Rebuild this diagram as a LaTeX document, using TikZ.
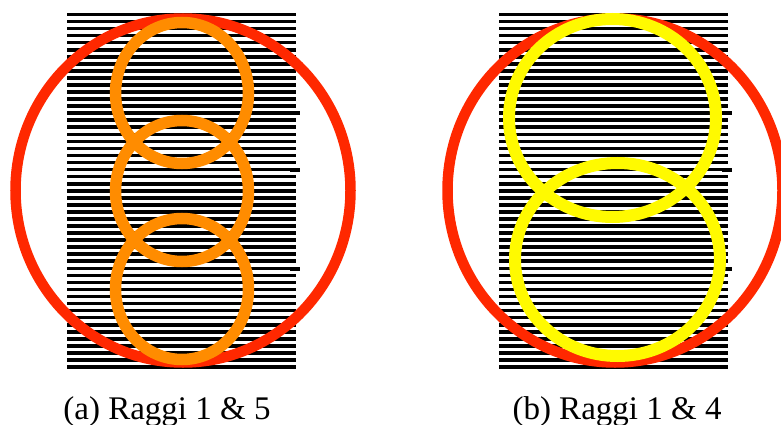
\documentclass[tikz,border=0pt]{standalone}
\usepackage{fontspec}
\setmainfont{Liberation Serif}
\definecolor{redc}{RGB}{255,40,0}
\definecolor{orangec}{RGB}{255,140,0}
\definecolor{yellowc}{RGB}{255,250,0}
\begin{document}
\begin{tikzpicture}[x=1pt,y=-1pt,
  hline/.style={line width=3.6pt,black},
  bigring/.style={draw=redc,line width=10.5pt},
  orring/.style={draw=orangec,line width=11.5pt},
  yering/.style={draw=yellowc,line width=12pt},
  caption/.style={anchor=base,font=\fontsize{33}{35}\selectfont,inner sep=0pt}]
\useasboundingbox (0,0) rectangle (781,425);
% line patterns
\foreach \i in {0,...,50}{
  \pgfmathsetmacro{\yy}{14.5+\i*7.05}
  \draw[hline] (67,\yy) -- (296,\yy);
  \draw[hline] (499,\yy) -- (728,\yy);
}
\foreach \yy in {63,113,170,269,318}{
  \draw[hline] (290,\yy) -- (300,\yy);
  \draw[hline] (722,\yy) -- (732,\yy);
}
% panel (a)
\draw[bigring] (183,190.5) ellipse [x radius=167.5, y radius=172];
\draw[orring] (182,93) ellipse [x radius=66.5, y radius=70.5];
\draw[orring] (182,191) ellipse [x radius=66.5, y radius=70.5];
\draw[orring] (182,289) ellipse [x radius=66.5, y radius=70.5];
% panel (b)
\draw[bigring] (615,190.5) ellipse [x radius=167.5, y radius=172];
\draw[yering] (612.5,118) ellipse [x radius=103.5, y radius=99];
\draw[yering] (617.5,259.5) ellipse [x radius=102.5, y radius=96.5];
% captions
\node[caption] (capa) at (167,419) {(a) Raggi 1 \& 5};
\node[caption] (capb) at (617,419) {(b) Raggi 1 \& 4};
\end{tikzpicture}
\end{document}
